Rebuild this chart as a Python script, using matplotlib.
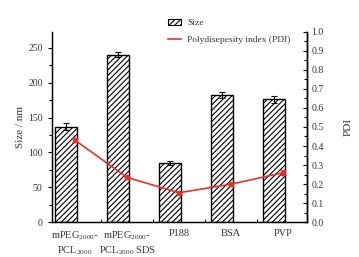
import numpy as np
import matplotlib.pyplot as plt
from matplotlib.patches import Patch
from matplotlib.lines import Line2D
from matplotlib.ticker import MultipleLocator, FixedLocator

plt.rcParams['font.family'] = ['Liberation Serif', 'DejaVu Serif']
plt.rcParams['mathtext.fontset'] = 'custom'
plt.rcParams['mathtext.rm'] = 'Liberation Serif'
plt.rcParams['hatch.linewidth'] = 0.8

labels = ['mPEG$_{2000}$-\nPCL$_{2000}$', 'mPEG$_{2000}$-\nPCL$_{2000}$ SDS',
          'P188', 'BSA', 'PVP']
size = [137, 240, 85, 182, 176]
size_err = [5, 4, 3, 4, 5]
pdi = [0.43, 0.235, 0.155, 0.20, 0.26]
pdi_err = [0.01, 0.01, 0.005, 0.008, 0.013]

x = np.arange(len(labels))
txt = '#333333'

fig = plt.figure(figsize=(3.59, 2.57), dpi=100)
ax = fig.add_axes([0.144, 0.135, 0.71, 0.742])

ax.bar(x - 0.18, size, width=0.42, color='white', edgecolor='black',
       hatch='//////', linewidth=1.0, yerr=size_err, capsize=2,
       error_kw=dict(elinewidth=0.8, capthick=0.8))
ax.set_ylim(0, 273)
ax.set_xlim(-0.45, 4.45)
ax.set_ylabel('Size / nm', fontsize=8, color=txt, labelpad=2)
ax.yaxis.set_major_locator(MultipleLocator(50))
ax.yaxis.set_minor_locator(MultipleLocator(25))
ax.tick_params(axis='y', which='major', direction='out', length=3, labelsize=7,
               labelcolor=txt, width=0.8)
ax.tick_params(axis='y', which='minor', direction='out', length=2, width=0.8)
ax.set_xticks(x)
ax.set_xticklabels(labels)
ax.xaxis.set_minor_locator(FixedLocator(x[:-1] + 0.5))
ax.tick_params(axis='x', which='major', length=0, labelsize=7.5, labelcolor=txt, pad=5)
ax.tick_params(axis='x', which='minor', direction='in', length=2.5, width=0.8)
ax.spines['top'].set_visible(False)
for s in ['left', 'bottom', 'right']:
    ax.spines[s].set_linewidth(1.0)

ax2 = ax.twinx()
ax2.errorbar(x, pdi, yerr=pdi_err, color='#e8302a', marker='o', markersize=3,
             linewidth=1.2, capsize=2, elinewidth=0.8)
ax2.set_ylim(0, 1.0)
ax2.set_ylabel('PDI', fontsize=8, color=txt, labelpad=14)
ax2.yaxis.set_major_locator(MultipleLocator(0.1))
ax2.yaxis.set_minor_locator(MultipleLocator(0.05))
ax2.tick_params(axis='y', which='major', direction='in', length=3, labelsize=7,
                labelcolor=txt, width=0.8, pad=3.5)
ax2.tick_params(axis='y', which='minor', direction='in', length=2, width=0.8)
ax2.spines['top'].set_visible(False)
ax2.spines['right'].set_linewidth(1.0)

handles = [Patch(facecolor='white', edgecolor='black', hatch='//////', linewidth=0.8),
           Line2D([], [], color='#e8302a', linewidth=1.2)]
fig.legend(handles, ['Size', 'Polydisepesity index (PDI)'], loc='upper left',
           bbox_to_anchor=(0.445, 0.96), frameon=False, fontsize=6.8,
           handlelength=1.4, handleheight=0.7, labelspacing=0.85, handletextpad=0.6,
           labelcolor=txt)

fig.savefig('out.png', dpi=100)
